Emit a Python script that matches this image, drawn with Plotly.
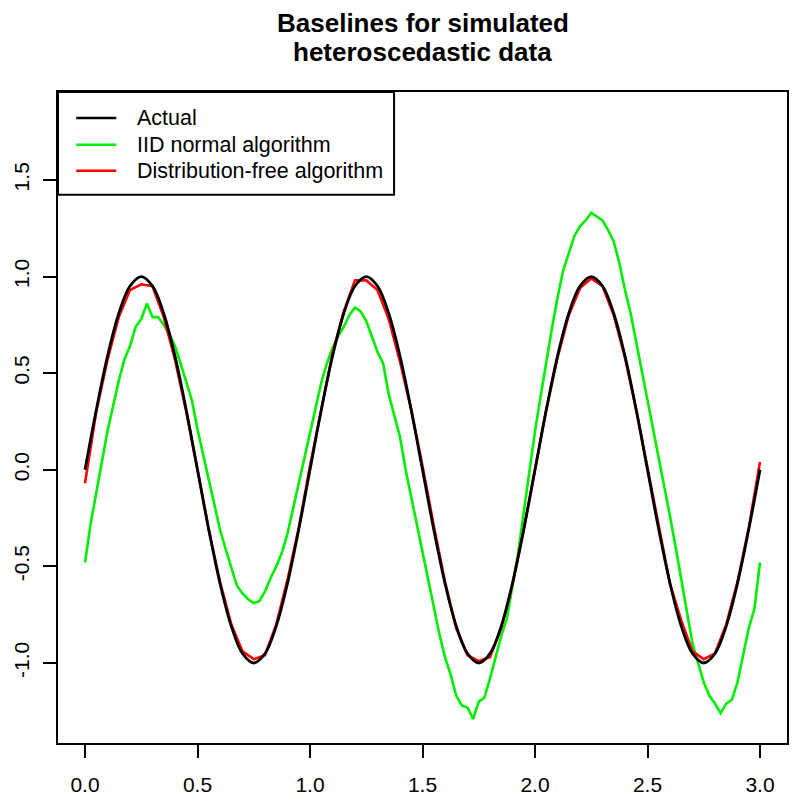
import plotly.graph_objects as go

# x grids: coarse for the smooth curves, finer for the noisy IID curve
x_vals = [round(i * 0.05, 3) for i in range(61)]
x_fine = [round(i * 0.025, 3) for i in range(121)]

actual = [0.0, 0.309, 0.588, 0.809, 0.951, 1.0, 0.951, 0.809, 0.588, 0.309,
          0.0, -0.309, -0.588, -0.809, -0.951, -1.0, -0.951, -0.809, -0.588, -0.309,
          0.0, 0.309, 0.588, 0.809, 0.951, 1.0, 0.951, 0.809, 0.588, 0.309,
          0.0, -0.309, -0.588, -0.809, -0.951, -1.0, -0.951, -0.809, -0.588, -0.309,
          0.0, 0.309, 0.588, 0.809, 0.951, 1.0, 0.951, 0.809, 0.588, 0.309,
          0.0, -0.309, -0.588, -0.809, -0.951, -1.0, -0.951, -0.809, -0.588, -0.309,
          0.0]

iid_normal = [-0.48, -0.28, -0.12, 0.05, 0.20, 0.33, 0.46, 0.57, 0.64, 0.74,
              0.78, 0.86, 0.79, 0.79, 0.75, 0.70, 0.64, 0.55, 0.46, 0.36,
              0.21, 0.08, -0.06, -0.19, -0.31, -0.41, -0.51, -0.60, -0.64, -0.67,
              -0.69, -0.68, -0.63, -0.56, -0.50, -0.43, -0.33, -0.20, -0.06, 0.06,
              0.19, 0.33, 0.45, 0.55, 0.63, 0.69, 0.74, 0.80, 0.84, 0.82,
              0.77, 0.69, 0.61, 0.55, 0.39, 0.28, 0.17, 0.00, -0.14, -0.29,
              -0.43, -0.57, -0.71, -0.85, -0.97, -1.06, -1.17, -1.22, -1.23, -1.29,
              -1.20, -1.18, -1.08, -0.97, -0.86, -0.77, -0.60, -0.43, -0.22, 0.00,
              0.20, 0.38, 0.56, 0.73, 0.89, 1.03, 1.12, 1.21, 1.26, 1.29,
              1.33, 1.31, 1.29, 1.24, 1.18, 1.07, 0.93, 0.81, 0.66, 0.52,
              0.37, 0.22, 0.07, -0.09, -0.24, -0.40, -0.57, -0.75, -0.90, -1.00,
              -1.10, -1.17, -1.21, -1.26, -1.21, -1.19, -1.10, -0.96, -0.82, -0.72,
              -0.48]

dist_free = [-0.07, 0.30, 0.57, 0.79, 0.93, 0.96, 0.95, 0.79, 0.57, 0.30,
             0.0, -0.31, -0.58, -0.80, -0.94, -0.98, -0.96, -0.80, -0.57, -0.30,
             0.02, 0.32, 0.60, 0.82, 0.98, 0.98, 0.93, 0.78, 0.56, 0.31,
             0.02, -0.29, -0.58, -0.82, -0.96, -0.99, -0.97, -0.82, -0.59, -0.31,
             0.0, 0.31, 0.58, 0.80, 0.94, 0.99, 0.95, 0.80, 0.58, 0.31,
             0.01, -0.30, -0.59, -0.78, -0.94, -0.98, -0.95, -0.80, -0.58, -0.30,
             0.04]

legend_labels = ["Actual", "IID normal algorithm", "Distribution-free algorithm"]
legend_colors = ["#000000", "#00ee00", "#ff0000"]
title_lines = ["Baselines for simulated", "heteroscedastic data"]

FONT = "Liberation Sans, Arial, Helvetica, sans-serif"

fig = go.Figure()
fig.add_trace(go.Scatter(x=x_fine, y=iid_normal, mode="lines", name=legend_labels[1],
                         line=dict(color=legend_colors[1], width=2.6)))
fig.add_trace(go.Scatter(x=x_vals, y=dist_free, mode="lines", name=legend_labels[2],
                         line=dict(color=legend_colors[2], width=2.6)))
fig.add_trace(go.Scatter(x=x_vals, y=actual, mode="lines", name=legend_labels[0],
                         line=dict(color=legend_colors[0], width=2.8, shape="spline")))

# hand-drawn legend box in the top-left corner, R style
fig.add_shape(type="rect", xref="paper", yref="paper", x0=0, x1=0.461, y0=0.842, y1=1,
              line=dict(color="black", width=2), fillcolor="white", layer="above")
rows_y = [0.960, 0.919, 0.879]
for lab, col, yy in zip(legend_labels, legend_colors, rows_y):
    fig.add_shape(type="line", xref="paper", yref="paper", x0=0.025, x1=0.080, y0=yy, y1=yy,
                  line=dict(color=col, width=2.6), layer="above")
    fig.add_annotation(xref="paper", yref="paper", x=0.1056, y=yy, text=lab, showarrow=False,
                       xanchor="left", yanchor="middle", font=dict(size=21.5, color="black"))

# two-line bold title, one annotation per line
for txt, yy in zip(title_lines, [1.106, 1.0614]):
    fig.add_annotation(xref="paper", yref="paper", x=0.5, y=yy, text=f"<b>{txt}</b>",
                       showarrow=False, xanchor="center", yanchor="middle",
                       font=dict(size=26, color="black"))

axis_style = dict(showgrid=False, zeroline=False, showline=True, mirror=True,
                  linecolor="black", linewidth=2, ticks="outside", ticklen=13,
                  tickwidth=2, tickcolor="black", tickfont=dict(size=21, color="black"),
                  automargin=False)

fig.update_xaxes(range=[-0.12, 3.12], tickvals=[0, 0.5, 1, 1.5, 2, 2.5, 3],
                 ticktext=["0.0", "0.5", "1.0", "1.5", "2.0", "2.5", "3.0"],
                 ticklabelstandoff=9, **axis_style)
fig.update_yaxes(range=[-1.414, 1.955], tickvals=[-1, -0.5, 0, 0.5, 1, 1.5],
                 ticktext=["-1.0", "-0.5", "0.0", "0.5", "1.0", "1.5"],
                 tickangle=-90, ticklabelstandoff=6, **axis_style)

# the page body adds ~8px offset, so margins are trimmed on left/top
fig.update_layout(
    font=dict(family=FONT, color="black"),
    showlegend=False,
    width=800, height=808,
    margin=dict(l=50, r=21, t=84, b=73),
    plot_bgcolor="white", paper_bgcolor="white",
)

fig.write_html("out.html")
